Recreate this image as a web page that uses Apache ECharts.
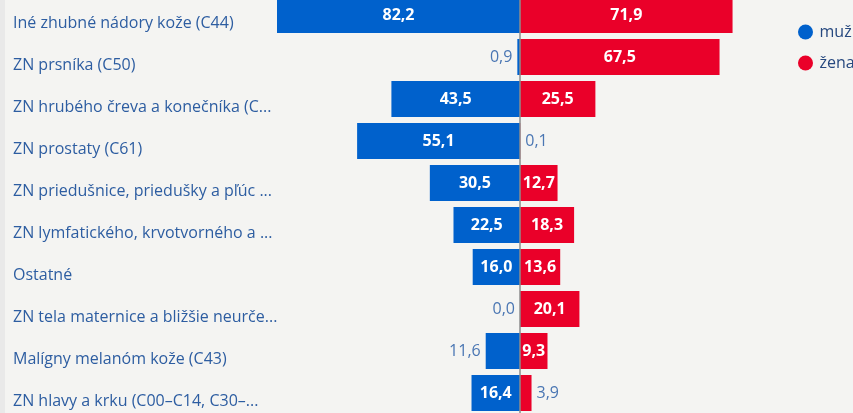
<!DOCTYPE html>
<html>
<head>
<meta charset="utf-8">
<script src="https://cdn.jsdelivr.net/npm/echarts@6/dist/echarts.min.js"></script>
<style>
  html, body { margin: 0; padding: 0; background: #f4f4f2; }
  #chart { width: 853px; height: 413px; }
</style>
</head>
<body>
<div id="chart"></div>
<script>
const categories = [
  'Iné zhubné nádory kože (C44)',
  'ZN prsníka (C50)',
  'ZN hrubého čreva a konečníka (C...',
  'ZN prostaty (C61)',
  'ZN priedušnice, priedušky a pľúc ...',
  'ZN lymfatického, krvotvorného a ...',
  'Ostatné',
  'ZN tela maternice a bližšie neurče...',
  'Malígny melanóm kože (C43)',
  'ZN hlavy a krku (C00–C14, C30–...'
];
const muzValues = [82.2, 0.9, 43.5, 55.1, 30.5, 22.5, 16.0, 0.0, 11.6, 16.4];
const zenaValues = [71.9, 67.5, 25.5, 0.1, 12.7, 18.3, 13.6, 20.1, 9.3, 3.9];

const FONT = '"Open Sans", "Liberation Sans", sans-serif';
const BLUE = '#0061cc';
const RED = '#ea0029';

const chart = echarts.init(document.getElementById('chart'));

const maxAbs = Math.max(...muzValues, ...zenaValues);
const gridLeft = 277, gridRight = 90;
const pxPerUnit = (853 - gridLeft - gridRight) / (2 * maxAbs);

const canvas = document.createElement('canvas');
const ctx = canvas.getContext('2d');
ctx.font = 'bold 16px ' + FONT;

const fmt = v => Math.abs(v).toFixed(1).replace('.', ',');

// label goes inside the bar only when the text fits
function labelFor(v, outsidePos) {
  const fits = Math.abs(v) * pxPerUnit >= ctx.measureText(fmt(v)).width + 4;
  return fits
    ? { position: 'inside', color: '#ffffff', fontWeight: 'bold' }
    : { position: outsidePos, color: '#4a76b3', fontWeight: 'normal', distance: 5 };
}

const option = {
  backgroundColor: '#f4f4f2',
  animation: false,
  textStyle: { fontFamily: FONT },
  graphic: [{
    type: 'rect',
    shape: { x: 0, y: 0, width: 5, height: 413 },
    style: { fill: '#e9e9e9' },
    silent: true
  }],
  legend: {
    orient: 'vertical',
    left: 793,
    top: 19,
    icon: 'circle',
    itemWidth: 18,
    itemHeight: 15,
    itemGap: 15,
    textStyle: { fontSize: 16, lineHeight: 16, color: '#26487f', fontFamily: FONT },
    data: ['muž', 'žena']
  },
  grid: {
    left: gridLeft,
    right: gridRight,
    top: -6,
    bottom: -1,
    outerBoundsMode: 'none'
  },
  xAxis: {
    type: 'value',
    min: -maxAbs,
    max: maxAbs,
    show: false,
    splitLine: { show: false }
  },
  yAxis: {
    type: 'category',
    data: categories,
    inverse: true,
    axisLine: { show: false },
    axisTick: { show: false },
    axisLabel: {
      align: 'left',
      verticalAlign: 'top',
      lineHeight: 16,
      margin: gridLeft - 13,
      fontSize: 16,
      color: '#2d5da1',
      fontFamily: FONT
    }
  },
  series: [
    {
      name: 'muž',
      type: 'bar',
      stack: 'total',
      barWidth: 36,
      itemStyle: { color: BLUE },
      label: { show: true, fontSize: 16, fontFamily: FONT, formatter: p => fmt(p.value) },
      data: muzValues.map(v => ({ value: -v, label: labelFor(v, 'left') })),
      markLine: {
        silent: true,
        symbol: 'none',
        label: { show: false },
        lineStyle: { color: '#8c8c8c', type: 'solid', width: 1.5 },
        data: [{ xAxis: 0 }]
      }
    },
    {
      name: 'žena',
      type: 'bar',
      stack: 'total',
      barWidth: 36,
      itemStyle: { color: RED },
      label: { show: true, fontSize: 16, fontFamily: FONT, formatter: p => fmt(p.value) },
      data: zenaValues.map(v => ({ value: v, label: labelFor(v, 'right') }))
    }
  ]
};

chart.setOption(option);
</script>
</body>
</html>
